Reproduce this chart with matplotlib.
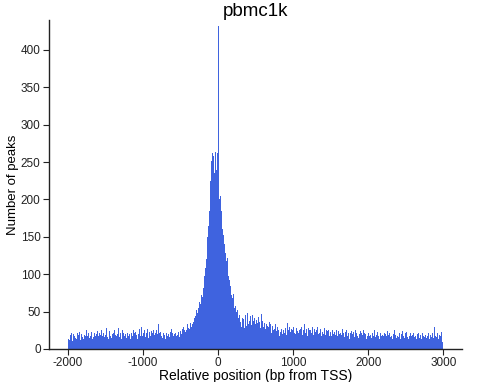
import numpy as np
import matplotlib
matplotlib.use("Agg")
import matplotlib.pyplot as plt

plt.rcParams["font.family"] = ["Liberation Sans", "DejaVu Sans"]
plt.rcParams["axes.unicode_minus"] = False

# counts per 10 bp bin, from -2000 to 3000 bp relative to TSS
up_far = [14, 21, 12, 19, 22, 16, 11, 20, 18, 24, 15, 13, 21, 17, 19, 23, 12, 18, 20, 16,
          14, 22, 19, 17, 25, 13, 18, 21, 15, 20, 17, 23, 14, 19, 16, 22, 18, 12, 20, 24,
          17, 15, 21, 19, 26, 14, 18, 22, 16, 20]
up_mid = [19, 28, 16, 21, 14, 24, 18, 27, 15, 20, 22, 13, 26, 19, 17, 23, 20, 28, 16, 18,
          21, 14, 25, 19, 22, 17, 20, 24, 15, 21, 18, 26, 20, 13, 22, 19, 17, 25, 21, 16,
          23, 19, 14, 22, 20, 27, 18, 21, 30, 17]
up_near = [22, 18, 25, 16, 21, 19, 27, 15, 23, 20, 18, 24, 21, 17, 26, 19, 22, 14, 25, 20,
           33, 17, 21, 23, 18, 26, 15, 22, 19, 24, 13, 21, 18, 25, 20, 16, 23, 19, 27, 21,
           17, 24, 20, 22, 18, 28, 19, 23, 16, 25]
rise_1 = [24, 20, 27, 22, 29, 25, 23, 30, 26, 33, 28, 31, 27, 35, 30, 38, 33, 36, 41, 39]
rise_2 = [44, 52, 48, 58, 55, 63, 60, 68, 72, 70]
rise_3 = [82, 90, 98, 108, 120, 135, 150, 165, 185, 205]
top_left = [225, 252, 262, 245, 258, 236, 264, 250, 240, 262]
top_right = [432, 245, 200, 205, 185, 178, 160, 152, 140, 135]
fall = [128, 118, 122, 105, 98, 92, 84, 80, 72, 68, 74, 60, 55, 58, 50, 47, 52, 42, 45, 38]
down_near = [36, 30, 42, 33, 40, 28, 45, 35, 31, 48, 34, 38, 29, 44, 32, 46, 30, 37, 41, 33,
             27, 39, 35, 43, 31, 36, 28, 47, 33, 38, 30, 35, 42, 27, 34, 31, 39, 29, 36, 33]
down_mid = [28, 22, 31, 25, 19, 27, 33, 24, 21, 29, 26, 18, 30, 23, 27, 20, 32, 25, 22, 28,
            24, 19, 35, 26, 21, 29, 23, 27, 18, 25, 30, 22, 26, 20, 28, 24, 31, 21, 25, 27,
            22, 29, 19, 26, 24, 33, 21, 27, 23, 18, 28, 25, 20, 26, 22, 29, 24, 19, 27, 23,
            21, 26, 30, 20, 24, 22, 27, 18, 25, 23, 20, 28, 22, 19, 26, 24, 21, 25, 17, 23]
down_far = [22, 18, 25, 20, 16, 23, 19, 26, 21, 17, 24, 20, 15, 22, 19, 27, 18, 21, 16, 23,
            20, 25, 17, 22, 19, 14, 21, 24, 18, 20, 23, 16, 19, 26, 21, 17, 22, 15, 20, 24,
            18, 21, 19, 25, 16, 22, 20, 13, 23, 18, 21, 17, 24, 19, 15, 22, 20, 18, 26, 16,
            21, 19, 23, 17, 20, 14, 22, 18, 24, 19]
down_end = [17, 22, 15, 20, 18, 24, 13, 19, 21, 16, 23, 18, 14, 20, 17, 25, 19, 15, 21, 18,
            16, 22, 19, 13, 20, 24, 17, 18, 15, 21, 19, 23, 16, 14, 20, 18, 22, 17, 15, 19,
            21, 16, 24, 18, 13, 20, 17, 22, 15, 19, 18, 14, 21, 17, 23, 16, 19, 15, 20, 18,
            22, 14, 17, 19, 16, 21, 18, 15, 29, 17, 20, 16, 22, 14, 25, 19, 18, 23, 15, 9]

counts = np.concatenate([up_far, up_mid, up_near, rise_1, rise_2, rise_3, top_left,
                         top_right, fall, down_near, down_mid, down_far, down_end])
bin_width = 10
edges = -2000 + bin_width * np.arange(len(counts))

fig = plt.figure(figsize=(4.82, 3.82), dpi=100)
ax = fig.add_axes([0.1017, 0.0864, 0.8568, 0.8612])

ax.bar(edges, counts, width=bin_width, align="edge", color="#3F63DF",
       linewidth=0)

ax.set_xlim(-2250, 3250)
ax.set_ylim(0, 440)
ax.set_xticks([-2000, -1000, 0, 1000, 2000, 3000])
ax.set_yticks(range(0, 401, 50))

for side in ["top", "right"]:
    ax.spines[side].set_visible(False)
for side in ["left", "bottom"]:
    ax.spines[side].set_color("#222222")
    ax.spines[side].set_linewidth(1.0)
ax.tick_params(axis="both", labelsize=8.5, length=4, width=0.8,
               color="#222222", labelcolor="#222222", pad=2)

ax.set_title("pbmc1k", fontsize=13.5, pad=2)
ax.set_xlabel("Relative position (bp from TSS)", fontsize=10, labelpad=0)
ax.set_ylabel("Number of peaks", fontsize=9.5, labelpad=1)

fig.savefig("out.png", dpi=100)
